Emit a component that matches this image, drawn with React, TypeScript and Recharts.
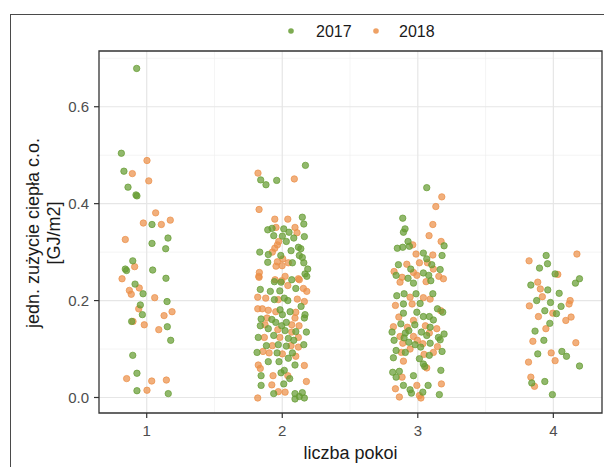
import React from 'react';
import {
  ScatterChart,
  Scatter,
  XAxis,
  YAxis,
  CartesianGrid,
  ReferenceArea,
} from 'recharts';

// [jittered x position (liczba pokoi), jedn. zużycie ciepła c.o. GJ/m2]
const pok1_2017 = [
  [0.926, 0.679], [0.813, 0.504], [0.832, 0.467], [0.862, 0.434], [0.921, 0.418], [0.928, 0.416],
  [1.039, 0.357], [1.157, 0.329], [1.039, 0.318], [1.14, 0.307], [0.897, 0.282], [0.842, 0.265],
  [0.851, 0.262], [1.044, 0.263], [1.142, 0.246], [0.914, 0.234], [0.973, 0.214], [1.15, 0.198],
  [0.953, 0.191], [0.968, 0.171], [0.889, 0.157], [1.152, 0.146], [1.177, 0.118], [0.897, 0.087],
  [0.928, 0.05], [0.928, 0.014], [1.159, 0.008],
];
const pok1_2018 = [
  [0.894, 0.462], [1.002, 0.489], [1.015, 0.447], [1.066, 0.381], [0.975, 0.36], [1.108, 0.357],
  [1.174, 0.366], [0.842, 0.326], [0.911, 0.27], [0.818, 0.245], [0.945, 0.226], [0.872, 0.221],
  [0.886, 0.213], [1.059, 0.206], [0.941, 0.183], [1.187, 0.177], [1.128, 0.169], [0.899, 0.157],
  [0.982, 0.15], [1.089, 0.14], [0.852, 0.039], [1.037, 0.034], [1.145, 0.036], [1.002, 0.015],
];

const pok2_2017 = [
  [2.171, 0.479], [1.841, 0.449], [1.88, 0.439], [1.959, 0.448], [2.148, 0.372], [2.159, 0.358],
  [1.893, 0.346], [1.925, 0.349], [2.011, 0.348], [2.05, 0.341], [1.937, 0.334], [2.001, 0.333],
  [2.085, 0.329], [2.163, 0.332], [2.03, 0.322], [2.119, 0.31], [2.065, 0.303], [1.834, 0.3],
  [1.897, 0.295], [2.137, 0.307], [1.989, 0.293], [2.126, 0.293], [2.148, 0.289], [1.893, 0.279],
  [2.075, 0.278], [2.159, 0.278], [2.188, 0.265], [2.168, 0.255],
  [1.942, 0.239], [2.07, 0.243], [2.181, 0.25], [1.991, 0.238], [2.1, 0.225], [1.838, 0.223],
  [1.912, 0.219], [1.982, 0.22], [1.942, 0.202], [2.015, 0.205], [2.041, 0.2], [2.139, 0.188],
  [1.984, 0.181], [2.058, 0.177], [2.001, 0.171], [2.168, 0.171], [2.163, 0.164], [1.844, 0.162],
  [1.923, 0.161], [1.952, 0.155], [2.03, 0.155], [1.838, 0.148], [1.996, 0.148], [1.897, 0.142],
  [2.021, 0.138], [2.1, 0.136], [2.178, 0.135], [1.823, 0.124], [1.937, 0.128], [2.045, 0.122],
  [2.085, 0.118], [1.883, 0.107], [1.971, 0.109], [2.03, 0.106], [2.159, 0.109], [1.814, 0.093],
  [1.962, 0.092], [2.075, 0.092], [2.045, 0.081], [1.897, 0.074], [1.976, 0.074], [2.094, 0.067],
  [2.015, 0.056], [1.991, 0.051], [1.844, 0.045], [2.055, 0.039], [1.844, 0.025], [2.011, 0.028],
  [1.937, 0.008], [2.094, 0.008], [2.148, 0.01], [2.094, -0.003], [2.163, -0.001], [2.126, 0.002],
];
const pok2_2018 = [
  [1.821, 0.463], [2.089, 0.451], [1.829, 0.388], [1.945, 0.368], [2.041, 0.368], [1.954, 0.351],
  [2.094, 0.351], [2.109, 0.34], [1.974, 0.322], [1.964, 0.315], [1.945, 0.308], [1.927, 0.3],
  [2.004, 0.286], [1.964, 0.28], [2.045, 0.278], [1.999, 0.272], [1.954, 0.271], [1.831, 0.258],
  [1.827, 0.25], [1.947, 0.243], [2.021, 0.25], [2.119, 0.245],
  [1.829, 0.248], [1.996, 0.241], [2.126, 0.243], [2.041, 0.231], [2.156, 0.225], [2.181, 0.219],
  [1.819, 0.207], [1.878, 0.205], [1.971, 0.202], [2.111, 0.203], [2.163, 0.198], [1.819, 0.183],
  [1.853, 0.183], [1.897, 0.18], [1.952, 0.177], [2.1, 0.176], [2.094, 0.164], [1.888, 0.164],
  [1.873, 0.15], [2.07, 0.15], [2.124, 0.148], [1.967, 0.14], [2.07, 0.135], [1.868, 0.124],
  [1.982, 0.124], [2.119, 0.124], [1.927, 0.107], [2.065, 0.107], [2.119, 0.104], [1.858, 0.095],
  [1.903, 0.092], [2.001, 0.09], [2.1, 0.085], [1.823, 0.067], [2.163, 0.066], [1.838, 0.06],
  [1.932, 0.045], [2.041, 0.045], [2.178, 0.033], [1.923, 0.026], [1.971, 0.012], [2.021, 0.011],
  [1.819, -0.001],
];

const pok3_2017 = [
  [3.066, 0.433], [2.889, 0.37], [2.906, 0.348], [2.894, 0.341], [2.928, 0.322], [3.194, 0.313],
  [2.849, 0.308], [2.889, 0.31], [2.938, 0.312], [3.041, 0.298], [3.179, 0.293], [3.066, 0.286],
  [2.857, 0.274], [3.103, 0.274], [2.948, 0.265], [3.041, 0.257], [3.165, 0.264], [2.84, 0.252],
  [2.928, 0.246], [3.081, 0.252], [3.096, 0.241], [2.968, 0.236],
  [2.845, 0.21], [2.899, 0.214], [2.987, 0.214], [3.111, 0.214], [2.894, 0.193], [3.017, 0.194],
  [3.145, 0.183], [2.993, 0.176], [3.184, 0.176], [2.894, 0.174], [3.041, 0.167], [3.085, 0.167],
  [3.115, 0.16], [2.875, 0.152], [2.978, 0.15], [3.091, 0.145], [2.81, 0.135], [2.908, 0.133],
  [2.934, 0.138], [3.027, 0.135], [3.194, 0.131], [2.899, 0.123], [3.066, 0.128], [3.152, 0.124],
  [2.825, 0.118], [3.165, 0.119], [2.934, 0.114], [2.98, 0.109], [3.091, 0.112], [3.021, 0.104],
  [2.84, 0.097], [2.908, 0.093], [3.179, 0.095], [2.82, 0.082], [3.085, 0.087], [3.012, 0.08],
  [3.041, 0.069], [3.051, 0.064], [3.17, 0.056], [2.815, 0.052], [2.864, 0.054], [2.84, 0.042],
  [2.968, 0.045], [3.076, 0.025], [2.894, 0.025], [2.943, 0.016], [2.953, 0.009], [3.037, 0.011],
  [3.159, 0.006],
];
const pok3_2018 = [
  [3.177, 0.414], [3.133, 0.394], [3.111, 0.357], [3.083, 0.334], [3.172, 0.322], [2.963, 0.315],
  [2.987, 0.296], [3.111, 0.294], [3.012, 0.278], [2.919, 0.275], [3.071, 0.278], [2.825, 0.26],
  [2.968, 0.258], [3.115, 0.265], [2.884, 0.248], [2.993, 0.252], [3.155, 0.25], [3.061, 0.239],
  [3.189, 0.245], [2.869, 0.238],
  [2.943, 0.207], [3.041, 0.206], [3.091, 0.203], [2.835, 0.19], [2.958, 0.193], [3.17, 0.179],
  [2.86, 0.166], [2.968, 0.159], [2.82, 0.146], [2.923, 0.145], [3.056, 0.148], [3.14, 0.142],
  [3.085, 0.133], [2.869, 0.126], [2.968, 0.126], [2.997, 0.118], [2.889, 0.112], [3.037, 0.111],
  [3.145, 0.105], [2.943, 0.1], [2.879, 0.093], [3.115, 0.093], [3.046, 0.089], [2.894, 0.075],
  [3.066, 0.061], [2.884, 0.042], [3.174, 0.028], [2.835, 0.018], [2.993, 0.025], [3.012, 0.004],
  [2.864, 0.001], [3.023, -0.001],
];

const pok4_2017 = [
  [3.947, 0.293], [3.957, 0.276], [3.898, 0.267], [4.013, 0.255], [4.193, 0.245], [4.163, 0.236],
  [3.834, 0.232], [3.959, 0.222], [4.043, 0.215], [3.877, 0.2], [3.979, 0.196], [4.057, 0.188],
  [3.937, 0.179], [4.023, 0.173], [3.974, 0.153], [3.865, 0.137], [3.93, 0.118], [3.885, 0.09],
  [4.063, 0.095], [4.097, 0.085], [4.193, 0.065], [3.841, 0.03], [3.937, 0.033], [3.993, 0.006],
];
const pok4_2018 = [
  [4.174, 0.296], [3.821, 0.282], [4.033, 0.254], [3.885, 0.238], [3.904, 0.224], [3.919, 0.208],
  [4.124, 0.2], [4.116, 0.193], [3.823, 0.189], [3.996, 0.174], [3.89, 0.167], [4.131, 0.166],
  [4.092, 0.159], [3.945, 0.142], [3.849, 0.116], [4.166, 0.113], [3.984, 0.092], [4.013, 0.076],
  [3.817, 0.073], [3.834, 0.042], [3.861, 0.023],
];

const years = ['2017', '2018'];
const xTicks = [1, 2, 3, 4];
const xMinor = [1.5, 2.5, 3.5];
const yTicks = [0, 0.2, 0.4, 0.6];
const yMinor = [0.1, 0.3, 0.5, 0.7];

const GREEN = '#669c33';
const ORANGE = '#eb904a';
const FONT = '"Liberation Sans", Arial, sans-serif';

const X_DOMAIN: [number, number] = [0.648, 4.359];
const Y_DOMAIN: [number, number] = [-0.032, 0.715];

const toPoints = (...groups: number[][][]) =>
  groups.flat().map(([x, y]) => ({ x, y }));

const data2017 = toPoints(pok1_2017, pok2_2017, pok3_2017, pok4_2017);
const data2018 = toPoints(pok1_2018, pok2_2018, pok3_2018, pok4_2018);

const dot = (color: string) => (props: any) => (
  <circle
    cx={props.cx}
    cy={props.cy}
    r={3.2}
    fill={color}
    fillOpacity={0.72}
    stroke={color}
    strokeOpacity={0.72}
    strokeWidth={1}
  />
);

const YTitle = (props: any) => {
  const vb = props.viewBox || { y: 51, height: 362 };
  const cy = vb.y + vb.height / 2 + 1;
  const style = { fontFamily: FONT, fontSize: 18, fill: '#1a1a1a' };
  return (
    <g>
      <text transform={`translate(39,${cy}) rotate(-90)`} textAnchor="middle" style={style}>
        jedn. zużycie ciepła c.o.
      </text>
      <text transform={`translate(60,${cy}) rotate(-90)`} textAnchor="middle" style={style}>
        [GJ/m2]
      </text>
    </g>
  );
};

export default function App() {
  return (
    <div
      style={{
        position: 'absolute',
        left: 0,
        top: 0,
        width: 604,
        height: 467,
        background: '#fff',
        overflow: 'hidden',
        fontFamily: FONT,
      }}
    >
      <ScatterChart width={604} height={467} margin={{ top: 51, right: 2, bottom: 0, left: 0 }}>
        <CartesianGrid
          horizontalValues={yMinor}
          verticalValues={xMinor}
          stroke="#ededed"
          strokeWidth={0.6}
        />
        <CartesianGrid
          horizontalValues={yTicks}
          verticalValues={xTicks}
          stroke="#e6e6e6"
          strokeWidth={1.2}
        />
        <XAxis
          type="number"
          dataKey="x"
          domain={X_DOMAIN}
          ticks={xTicks}
          allowDataOverflow
          height={54}
          axisLine={false}
          tickSize={5}
          tickMargin={7}
          tickLine={{ stroke: '#333', strokeWidth: 1.2 }}
          tick={{ fill: '#4d4d4d', fontSize: 15, fontFamily: FONT }}
          label={{
            value: 'liczba pokoi',
            position: 'insideBottom',
            offset: 8,
            fill: '#1a1a1a',
            fontSize: 18,
            fontFamily: FONT,
          }}
        />
        <YAxis
          type="number"
          dataKey="y"
          domain={Y_DOMAIN}
          ticks={yTicks}
          allowDataOverflow
          width={99}
          axisLine={false}
          tickSize={5}
          tickMargin={5}
          tickFormatter={(v: number) => v.toFixed(1)}
          tickLine={{ stroke: '#333', strokeWidth: 1.2 }}
          tick={{ fill: '#4d4d4d', fontSize: 15, fontFamily: FONT }}
          label={{ content: YTitle }}
        />
        <ReferenceArea
          x1={X_DOMAIN[0]}
          x2={X_DOMAIN[1]}
          y1={Y_DOMAIN[0]}
          y2={Y_DOMAIN[1]}
          fill="none"
          stroke="#333"
          strokeWidth={1.3}
          ifOverflow="visible"
        />
        <Scatter name={years[1]} data={data2018} shape={dot(ORANGE)} isAnimationActive={false} />
        <Scatter name={years[0]} data={data2017} shape={dot(GREEN)} isAnimationActive={false} />
      </ScatterChart>

      {/* legend above the panel */}
      <svg
        width={604}
        height={50}
        style={{ position: 'absolute', left: 0, top: 0, pointerEvents: 'none' }}
      >
        <circle cx={291} cy={31} r={2.8} fill={GREEN} fillOpacity={0.85} />
        <text x={316} y={37} fontSize={16} fontFamily={FONT} fill="#1a1a1a">
          {years[0]}
        </text>
        <circle cx={376} cy={31} r={2.8} fill={ORANGE} fillOpacity={0.85} />
        <text x={399} y={37} fontSize={16} fontFamily={FONT} fill="#1a1a1a">
          {years[1]}
        </text>
      </svg>

      {/* outer frame of the figure */}
      <div
        style={{
          position: 'absolute',
          left: 10,
          top: 14,
          width: 620,
          height: 480,
          border: '1.4px solid #4a4a4a',
          pointerEvents: 'none',
        }}
      />
    </div>
  );
}
